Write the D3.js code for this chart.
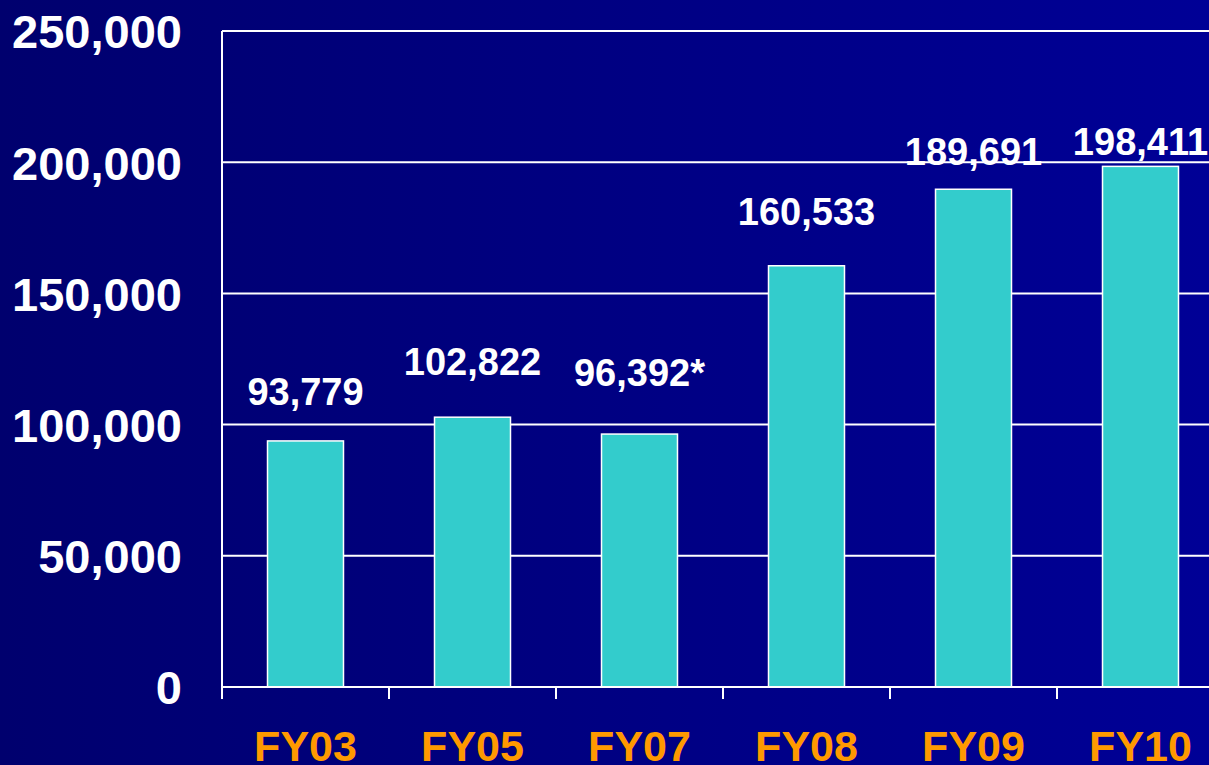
<!DOCTYPE html>
<html>
<head>
<meta charset="utf-8">
<script src="https://cdn.jsdelivr.net/npm/d3@7"></script>
<style>
  html, body { margin: 0; padding: 0; overflow: hidden; }
  text { font-family: "Liberation Sans", Arial, sans-serif; font-weight: bold; }
</style>
</head>
<body>
<script>
// data
var years = ["FY03", "FY05", "FY07", "FY08", "FY09", "FY10"];
var values = [93779, 102822, 96392, 160533, 189691, 198411];
var labels = ["93,779", "102,822", "96,392*", "160,533", "189,691", "198,411"];
var yTicks = [0, 50000, 100000, 150000, 200000, 250000];

// gap (px) between bar top and its value label, as placed on the slide
var labelGap = [36, 42, 48, 41, 24, 11];

var W = 1209, H = 765;
var svg = d3.select("body").append("svg")
    .attr("width", W)
    .attr("height", H)
    .style("display", "block");

var defs = svg.append("defs");
var grad = defs.append("linearGradient").attr("id", "bg")
    .attr("x1", "0%").attr("x2", "100%").attr("y1", "0%").attr("y2", "0%");
grad.append("stop").attr("offset", "0%").attr("stop-color", "#00006e");
grad.append("stop").attr("offset", "100%").attr("stop-color", "#000096");

svg.append("rect").attr("width", W).attr("height", H).attr("fill", "url(#bg)");

var plotLeft = 222, plotRight = 1224, plotTop = 31, plotBottom = 687;

var y = d3.scaleLinear().domain([0, 250000]).range([plotBottom, plotTop]);

var x = d3.scaleBand().domain(years).range([plotLeft, plotRight])
    .paddingInner(0.545).paddingOuter(0.2725);

var xEdge = d3.scaleBand().domain(years).range([plotLeft, plotRight]).padding(0);

// gridlines
svg.append("g").selectAll("line")
    .data(yTicks.filter(function(d) { return d > 0; }))
    .enter().append("line")
    .attr("x1", plotLeft).attr("x2", plotRight)
    .attr("y1", function(d) { return y(d); })
    .attr("y2", function(d) { return y(d); })
    .attr("stroke", "#fff").attr("stroke-width", 2);

// y axis
var yAxis = d3.axisLeft(y).tickValues(yTicks).tickSize(0).tickPadding(40)
    .tickFormat(d3.format(","));
var gy = svg.append("g").attr("transform", "translate(" + plotLeft + ",0)").call(yAxis);
gy.select(".domain").remove();
gy.selectAll("text")
    .attr("fill", "#fff")
    .style("font-size", "47px")
    .attr("dy", "0.36em");

// bars
svg.append("g").selectAll("rect")
    .data(values)
    .enter().append("rect")
    .attr("x", function(d, i) { return x(years[i]); })
    .attr("width", x.bandwidth())
    .attr("y", function(d) { return y(d); })
    .attr("height", function(d) { return y(0) - y(d); })
    .attr("fill", "#33cccc")
    .attr("stroke", "#fff")
    .attr("stroke-width", 1.5);

// value labels
svg.append("g").selectAll("text")
    .data(values)
    .enter().append("text")
    .attr("x", function(d, i) { return x(years[i]) + x.bandwidth() / 2; })
    .attr("y", function(d, i) { return y(d) - labelGap[i]; })
    .attr("text-anchor", "middle")
    .attr("fill", "#fff")
    .style("font-size", "38px")
    .text(function(d, i) { return labels[i]; });

// axis lines
svg.append("line")
    .attr("x1", plotLeft).attr("x2", plotLeft)
    .attr("y1", plotTop).attr("y2", plotBottom + 12)
    .attr("stroke", "#fff").attr("stroke-width", 2);
svg.append("line")
    .attr("x1", plotLeft).attr("x2", plotRight)
    .attr("y1", plotBottom).attr("y2", plotBottom)
    .attr("stroke", "#fff").attr("stroke-width", 2);

// x ticks at category edges
svg.append("g").selectAll("line")
    .data(years.slice(1))
    .enter().append("line")
    .attr("x1", function(d) { return xEdge(d); })
    .attr("x2", function(d) { return xEdge(d); })
    .attr("y1", plotBottom).attr("y2", plotBottom + 12)
    .attr("stroke", "#fff").attr("stroke-width", 2);

// category labels
svg.append("g").selectAll("text")
    .data(years)
    .enter().append("text")
    .attr("x", function(d) { return x(d) + x.bandwidth() / 2; })
    .attr("y", 761)
    .attr("text-anchor", "middle")
    .attr("fill", "#ff9900")
    .style("font-size", "43px")
    .text(function(d) { return d; });
</script>
</body>
</html>
